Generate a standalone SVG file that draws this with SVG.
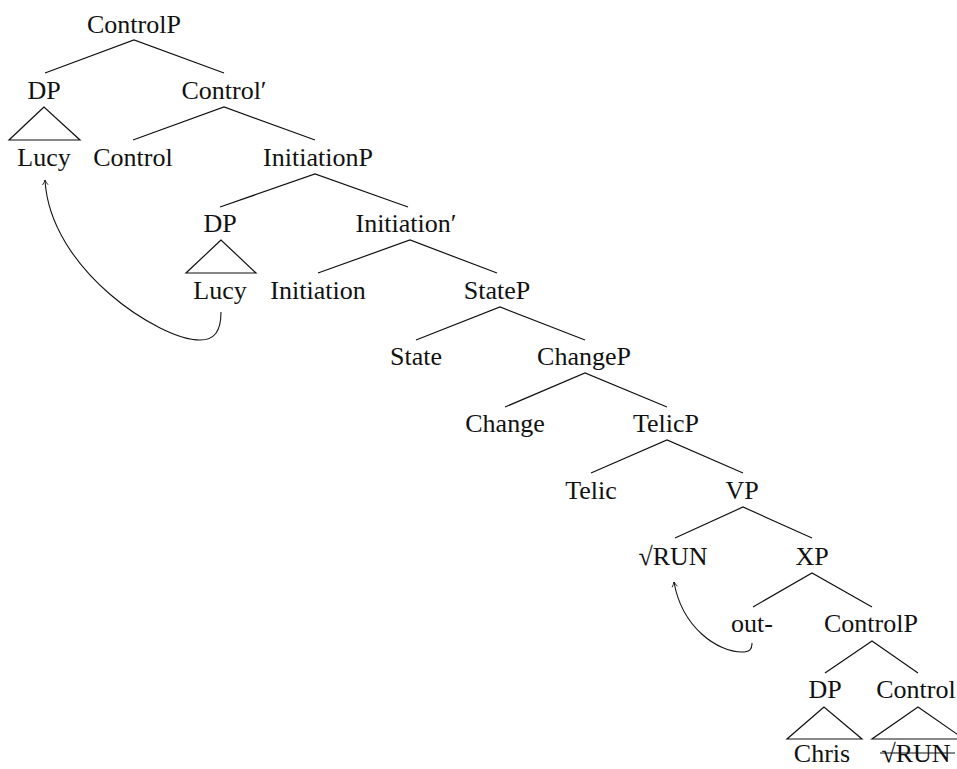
<svg xmlns="http://www.w3.org/2000/svg" width="957" height="769" viewBox="0 0 957 769">
  <style>
    text { font-family: "Liberation Serif", "DejaVu Serif", serif; font-size: 26px; fill: #111; text-anchor: middle; }
    .edge { stroke: #111; stroke-width: 1.2; fill: none; }
    .tri { stroke: #111; stroke-width: 1.2; fill: none; stroke-linejoin: miter; }
    .move { stroke: #111; stroke-width: 1.1; fill: none; marker-end: url(#tip); }
  </style>
  <defs>
    <marker id="tip" viewBox="0 0 10 10" refX="9" refY="5" markerWidth="7" markerHeight="7" markerUnits="userSpaceOnUse" orient="auto">
      <path d="M2,1 Q6,4 9,5 Q6,6 2,9" fill="none" stroke="#111" stroke-width="1.2"/>
    </marker>
  </defs>
  <rect width="957" height="769" fill="#fff"/>

  <!-- branches -->
  <g id="edges">
    <path class="edge" d="M45,73 L134,40 L224,73"/>
    <path class="edge" d="M133,140 L224,107 L315,140"/>
    <path class="edge" d="M220,207 L315,174 L408,207"/>
    <path class="edge" d="M318,273 L410,240 L497,273"/>
    <path class="edge" d="M416,340 L500,307 L585,340"/>
    <path class="edge" d="M505,407 L585,373 L667,407"/>
    <path class="edge" d="M591,473 L667,440 L743,473"/>
    <path class="edge" d="M675,538 L743,507 L812,538"/>
    <path class="edge" d="M753,607 L812,573 L872,607"/>
    <path class="edge" d="M825,673 L872,641 L918,673"/>
    <!-- movement arrows -->
    <path class="move" d="M221,312 C221,332 214,340 200,340 C160,340 50,270 45,180"/>
    <path class="move" d="M752,643 C752,650 749,652 742,652 C718,652 682,628 674,582"/>
  </g>

  <g id="n-controlp"><text x="134" y="33">ControlP</text></g>
  <g id="n-dp1">
    <text x="44" y="99">DP</text>
    <path class="tri" d="M44,107 L9,140 L80,140 Z"/>
  </g>
  <g id="n-lucy1"><text x="44" y="166">Lucy</text></g>
  <g id="n-controlbar"><text x="224" y="99">Control′</text></g>
  <g id="n-control"><text x="133" y="166">Control</text></g>
  <g id="n-initiationp"><text x="318" y="166">InitiationP</text></g>
  <g id="n-dp2">
    <text x="220" y="232">DP</text>
    <path class="tri" d="M221,240 L186,273 L256,273 Z"/>
  </g>
  <g id="n-lucy2"><text x="220" y="299">Lucy</text></g>
  <g id="n-initiationbar"><text x="406" y="232">Initiation′</text></g>
  <g id="n-initiation"><text x="318" y="299">Initiation</text></g>
  <g id="n-statep"><text x="497" y="299">StateP</text></g>
  <g id="n-state"><text x="416" y="365">State</text></g>
  <g id="n-changep"><text x="584" y="365">ChangeP</text></g>
  <g id="n-change"><text x="505" y="432">Change</text></g>
  <g id="n-telicp"><text x="666" y="432">TelicP</text></g>
  <g id="n-telic"><text x="591" y="499">Telic</text></g>
  <g id="n-vp"><text x="742" y="499">VP</text></g>
  <g id="n-run"><text x="673" y="565">√RUN</text></g>
  <g id="n-xp"><text x="812" y="565">XP</text></g>
  <g id="n-out"><text x="752" y="632">out-</text></g>
  <g id="n-controlp2"><text x="871" y="632">ControlP</text></g>
  <g id="n-dp3">
    <text x="825" y="698">DP</text>
    <path class="tri" d="M824,707 L787,739 L862,739 Z"/>
  </g>
  <g id="n-chris"><text x="822" y="762">Chris</text></g>
  <g id="n-control2">
    <text x="916" y="698">Control</text>
    <path class="tri" d="M918,707 L872,739 L964,739 Z"/>
  </g>
  <g id="n-run2">
    <text x="916" y="762">√RUN</text>
    <line class="edge" x1="880" y1="753" x2="955" y2="753"/>
  </g>
</svg>
